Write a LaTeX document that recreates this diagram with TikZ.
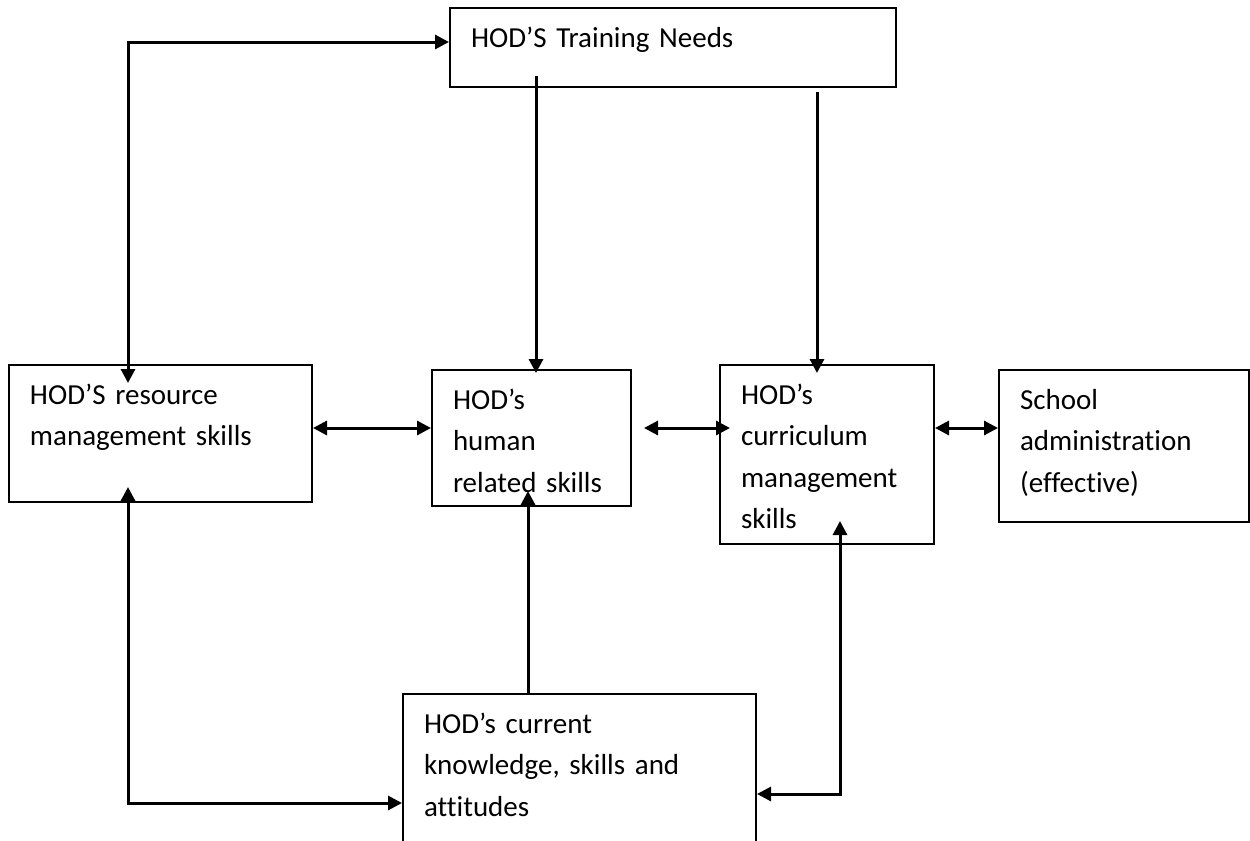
\documentclass[tikz,border=0pt]{standalone}
\usepackage{fontspec}
\setmainfont{Carlito}[Ligatures={TeX,NoCommon}]
\usetikzlibrary{arrows.meta, positioning, calc}

\begin{document}
\begin{tikzpicture}[
    x=0.5pt, y=-0.5pt,
    every node/.style={font=\fontsize{14.5}{20.75}\selectfont},
    box/.style={rectangle, draw=black, line width=1pt, anchor=north west,
        align=left, inner xsep=10.5pt, inner ysep=0pt, text height=19.5pt},
    link/.style={draw=black, line width=1.5pt},
    arr/.style={link, -{Triangle[length=7pt,width=7pt]}},
    darr/.style={link, {Triangle[length=7pt,width=7pt]}-{Triangle[length=7pt,width=7pt]}},
]
\useasboundingbox (0,0) rectangle (1250,841);
\clip (0,0) rectangle (1250,841);

% ===== boxes =====
\node[box, text width=202pt, text depth=20pt] (needs) at (449,7)
    {HOD’S Training Needs};
\node[box, text width=130.5pt, text depth=49pt] (res) at (8,364)
    {HOD’S resource\\management skills};
\node[box, text width=78.5pt, text depth=48.5pt] (hum) at (431,369)
    {HOD’s\\human\\related skills};
\node[box, text width=86pt, text depth=70pt] (curr) at (719,364)
    {HOD’s\\curriculum\\management\\skills};
\node[box, text width=104pt, text depth=56.5pt] (school) at (998,369)
    {School\\administration\\(effective)};
\node[box, text width=155.5pt, text depth=65.5pt] (cur) at (402,693)
    {HOD’s current\\knowledge, skills and\\attitudes};

% bends and free ends
\coordinate (c1)  at (128,42);
\coordinate (c2)  at (128,803);
\coordinate (c3)  at (840,794);
\coordinate (n1)  at (536,76);
\coordinate (n2)  at (817,92);
\coordinate (hx)  at (528,0);
\coordinate (row) at (0,428);

% ===== connectors =====
\draw[darr] ($(res.north -| c1)+(0,19)$) -- (c1) -- (c1 -| needs.west);
\draw[darr] ($(res.south -| c2)+(0,-16)$) -- (c2) -- (c2 -| cur.west);
\draw[darr] ($(curr.south -| c3)+(0,-24)$) -- (c3) -- (c3 -| cur.east);

\draw[arr] (n1) -- ($(hum.north -| n1)+(0,4)$);
\draw[arr] (n2) -- ($(curr.north -| n2)+(0,9)$);
\draw[arr] (cur.north -| hx) -- ($(hum.south -| hx)+(0,-16)$);

\draw[darr] (res.east |- row) -- (hum.west |- row);
\draw[darr] ($(hum.east |- row)+(12,0)$) -- ($(curr.west |- row)+(11,0)$);
\draw[darr] (curr.east |- row) -- (school.west |- row);

\end{tikzpicture}
\end{document}
